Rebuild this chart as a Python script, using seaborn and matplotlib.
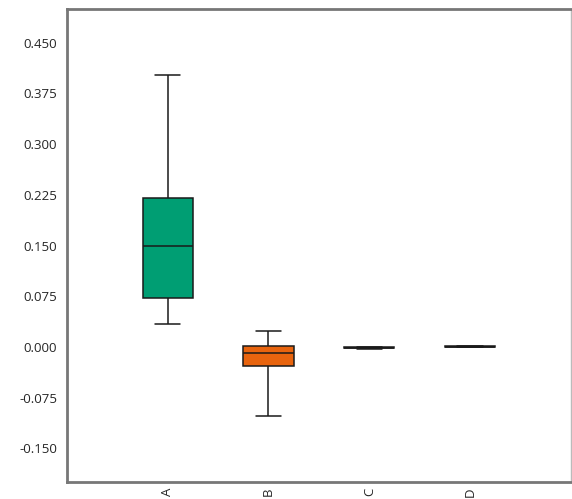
import numpy as np
import pandas as pd
import matplotlib
matplotlib.use("Agg")
import matplotlib.pyplot as plt
import seaborn as sns

# five-number summaries (min, q1, median, q3, max)
groups = ["A", "B", "C", "D"]
vals_a = [0.034, 0.072, 0.149, 0.221, 0.403]
vals_b = [-0.103, -0.028, -0.009, 0.0015, 0.024]
vals_c = [-0.0025, -0.0015, -0.001, -0.0005, 0.0005]
vals_d = [-0.0005, 0.0, 0.0005, 0.001, 0.0015]
colors = ["#009E73", "#E8640E", "#7570B3", "#E7298A"]

df = pd.DataFrame({
    "group": np.repeat(groups, 5),
    "value": vals_a + vals_b + vals_c + vals_d,
})

sns.set_style("white")
plt.rcParams["font.family"] = ["Open Sans", "DejaVu Sans"]

fig = plt.figure(figsize=(5.72, 4.99), dpi=100)
ax = fig.add_axes([0.117, 0.034, 0.881, 0.948])

sns.boxplot(data=df, x="group", y="value", hue="group", palette=colors,
            saturation=1, width=0.5, whis=(0, 100), linecolor="#1a1a1a",
            linewidth=1.1, legend=False, ax=ax)

ax.set_xlim(-1, 4)
ax.set_ylim(-0.2, 0.5)
ticks = np.arange(-0.15, 0.451, 0.075)
ax.set_yticks(ticks)
ax.set_yticklabels([f"{t:.3f}" for t in ticks])
ax.set_xlabel("")
ax.set_ylabel("")
ax.tick_params(axis="y", length=5, width=1, color="#555555", labelsize=9.5, pad=2)
ax.tick_params(axis="x", length=0, labelsize=9.5, labelrotation=90, pad=4)

for side in ["left", "bottom", "top"]:
    ax.spines[side].set_color("#777777")
    ax.spines[side].set_linewidth(2)
ax.spines["right"].set_color("#bbbbbb")
ax.spines["right"].set_linewidth(1)

fig.savefig("out.png", dpi=100)
